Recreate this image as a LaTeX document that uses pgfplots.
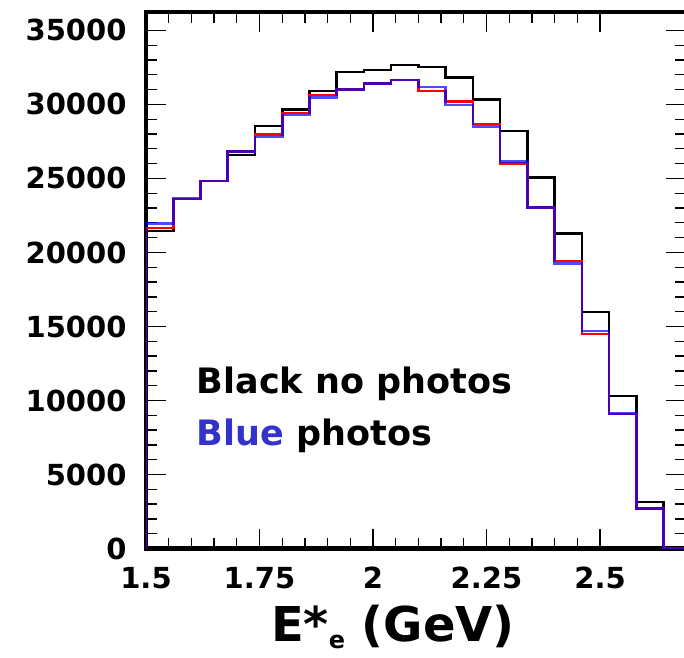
\documentclass[border=0pt]{standalone}
\usepackage{fontspec}
\setmainfont{DejaVu Sans}
\usepackage{graphicx}
\usepackage{pgfplots}
\pgfplotsset{compat=1.18}
\definecolor{bluetxt}{RGB}{51,51,204}
\definecolor{histblue}{RGB}{0,0,255}
\definecolor{histred}{RGB}{255,0,0}

\pgfplotstableread{
x black red blue
1.50 0 0 0
1.50 21460 21660 21960
1.56 23600 23600 23650
1.62 24840 24840 24840
1.68 26570 26800 26800
1.74 28535 27970 27810
1.80 29660 29430 29280
1.86 30920 30630 30470
1.92 32200 31010 31010
1.98 32330 31420 31420
2.04 32660 31640 31640
2.10 32540 30920 31190
2.16 31800 30180 29960
2.22 30340 28670 28490
2.28 28200 26000 26150
2.34 25070 23040 23040
2.40 21285 19430 19260
2.46 15990 14480 14700
2.52 10290 9075 9120
2.58 3150 2700 2700
2.64 0 0 0
2.70 0 0 0
}\histdata

\begin{document}
\begin{tikzpicture}
\begin{axis}[
  scale only axis, width=540pt, height=536.6pt,
  xmin=1.5, xmax=2.6894, ymin=0, ymax=36250,
  xtick={1.5,1.75,2,2.25,2.5},
  xticklabels={1.5,1.75,2,2.25,2.5},
  ytick={0,5000,10000,15000,20000,25000,30000,35000},
  scaled y ticks=false,
  yticklabel style={/pgf/number format/1000 sep={}, xshift=-16pt},
  xticklabel style={yshift=-15pt},
  minor x tick num=4, minor y tick num=4,
  tick align=inside,
  major tick length=20pt, minor tick length=11pt,
  tick style={black, line width=1.3pt},
  axis line style={line width=4.5pt},
  ticklabel style={font=\fontsize{29}{29}\selectfont\bfseries},
  /pgf/number format/assume math mode=true,
]
\addplot[const plot, black, line width=2.6pt] table[x=x, y=black] {\histdata};
\addplot[const plot, histred, line width=2.6pt] table[x=x, y=red] {\histdata};
\addplot[const plot, histblue, opacity=0.7, line width=2.6pt] table[x=x, y=blue] {\histdata};
\coordinate (O) at (rel axis cs:0,0);
\node[anchor=base west, font=\fontsize{35}{35}\selectfont\bfseries, inner sep=0pt] at (axis cs:1.6117,10473) {Black no photos};
\node[anchor=base west, font=\fontsize{35}{35}\selectfont\bfseries, inner sep=0pt] at (axis cs:1.6117,6980) {\textcolor{bluetxt}{Blue} photos};
\end{axis}
\node[anchor=base, font=\fontsize{48}{48}\selectfont\bfseries, inner sep=0pt] at ([xshift=247pt, yshift=-93pt]O) {E*\raisebox{-7pt}{\fontsize{24}{24}\selectfont e} (GeV)};
\pgfresetboundingbox
\path[use as bounding box] (O) ++(-146pt,-108.5pt) rectangle ++(684pt,657pt);
\end{tikzpicture}
\end{document}
